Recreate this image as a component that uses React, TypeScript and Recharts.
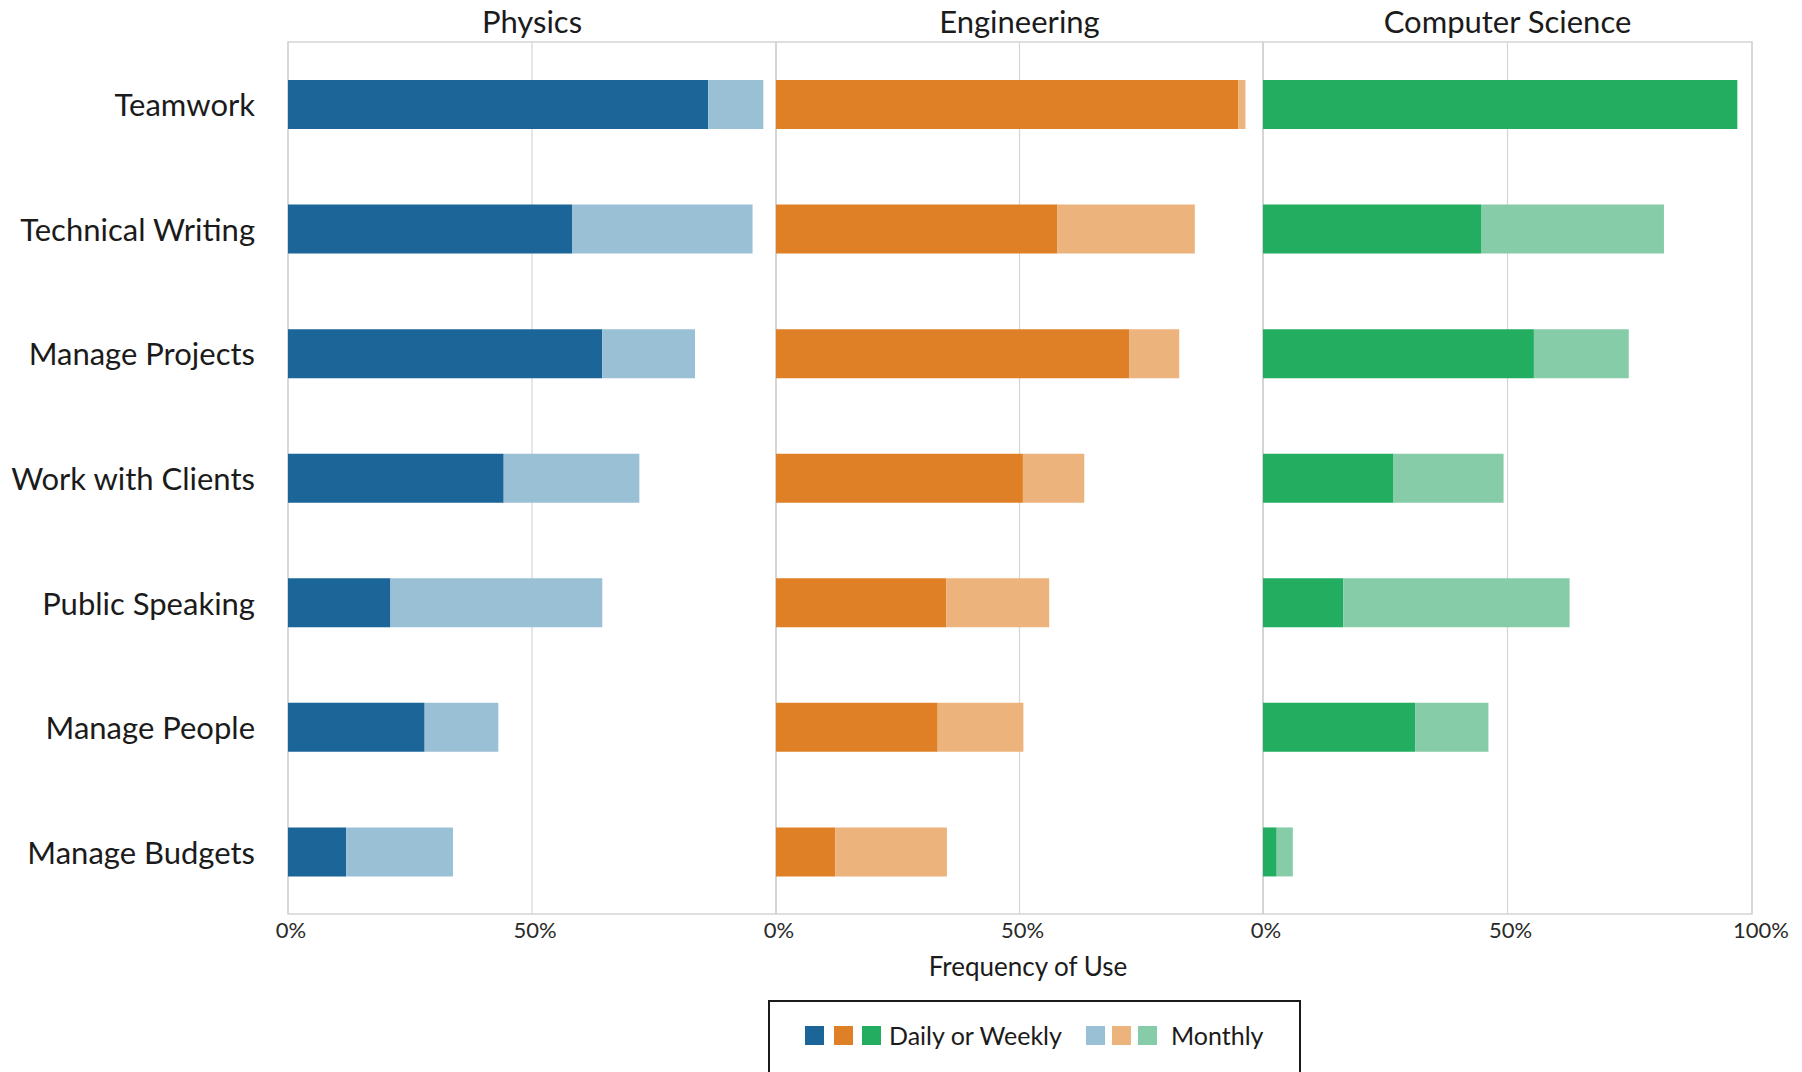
import React from "react";
import { BarChart, Bar, XAxis, YAxis, CartesianGrid, ReferenceArea } from "recharts";

// Skills surveyed, top to bottom
const skills = [
  "Teamwork",
  "Technical Writing",
  "Manage Projects",
  "Work with Clients",
  "Public Speaking",
  "Manage People",
  "Manage Budgets",
];

// Share of respondents (%) using each skill, by discipline
const physicsDaily = [86.1, 58.2, 64.4, 44.2, 21.0, 28.0, 11.9];
const physicsMonthly = [11.3, 37.0, 19.0, 27.8, 43.4, 15.1, 21.9];
const engineeringDaily = [94.9, 57.8, 72.6, 50.7, 35.0, 33.2, 12.2];
const engineeringMonthly = [1.5, 28.2, 10.2, 12.6, 21.1, 17.6, 22.9];
const csDaily = [97.0, 44.7, 55.4, 26.7, 16.4, 31.1, 2.8];
const csMonthly = [0, 37.3, 19.4, 22.5, 46.3, 15.0, 3.3];

const disciplines = ["Physics", "Engineering", "Computer Science"];
const innerTicks = [0, 50];
const lastTicks = [0, 50, 100];
const frequencyLabels = ["Daily or Weekly", "Monthly"];
const xAxisTitle = "Frequency of Use";

const FONT = "Lato, 'Open Sans', sans-serif";
const TEXT = "#1b1b1b";
const GRID = "#d5d5d5";

const W = 1802;
const H = 1072;
const PLOT_TOP = 42;
const PLOT_BOTTOM = 914;
const LABEL_W = 288;
const PAD = 40;
const EDGES = [288, 776, 1263, 1752];

const palettes = [
  { dark: "#1b6598", light: "#9ac0d6" },
  { dark: "#df8027", light: "#ecb37d" },
  { dark: "#22ad60", light: "#87cca9" },
];

const seriesByPanel = [
  { daily: physicsDaily, monthly: physicsMonthly },
  { daily: engineeringDaily, monthly: engineeringMonthly },
  { daily: csDaily, monthly: csMonthly },
];

const SkillTick = (props: any) => {
  const { y, payload } = props;
  return (
    <text
      x={LABEL_W - 33}
      y={y}
      textAnchor="end"
      dominantBaseline="central"
      fontFamily={FONT}
      fontSize={31}
      fill={TEXT}
    >
      {payload.value}
    </text>
  );
};

const PercentTick = (props: any) => {
  const { x, payload } = props;
  // the right-most label is nudged inward-right like a clamped end label
  const shift = payload.value === 100 ? 9 : 3;
  return (
    <text
      x={x + shift}
      y={PLOT_BOTTOM + 15}
      textAnchor="middle"
      dominantBaseline="central"
      fontFamily={FONT}
      fontSize={22}
      fill="#2a2a2a"
    >
      {`${payload.value}%`}
    </text>
  );
};

function Panel({ index }: { index: number }) {
  const first = index === 0;
  const last = index === disciplines.length - 1;
  const x0 = EDGES[index];
  const x1 = EDGES[index + 1];
  const left = first ? 0 : x0 - PAD;
  const width = first ? x1 + PAD : x1 - x0 + 2 * PAD;
  const { daily, monthly } = seriesByPanel[index];
  const { dark, light } = palettes[index];
  const data = skills.map((skill, i) => ({ skill, daily: daily[i], monthly: monthly[i] }));

  return (
    <div style={{ position: "absolute", left, top: 0 }}>
      <BarChart
        width={width}
        height={H}
        data={data}
        layout="vertical"
        barSize={49}
        margin={{ top: PLOT_TOP, right: PAD, bottom: 0, left: first ? 0 : PAD }}
      >
        <CartesianGrid horizontal={false} stroke={GRID} strokeWidth={1.2} />
        <XAxis
          type="number"
          domain={[0, 100]}
          ticks={last ? lastTicks : innerTicks}
          height={H - PLOT_BOTTOM}
          axisLine={false}
          tickLine={false}
          tick={<PercentTick />}
          interval={0}
        />
        <YAxis
          type="category"
          dataKey="skill"
          width={LABEL_W}
          hide={!first}
          axisLine={false}
          tickLine={false}
          tick={<SkillTick />}
          interval={0}
        />
        <Bar dataKey="daily" stackId="freq" fill={dark} isAnimationActive={false} />
        <Bar dataKey="monthly" stackId="freq" fill={light} isAnimationActive={false} />
        <ReferenceArea
          x1={0}
          x2={100}
          fill="none"
          fillOpacity={0}
          stroke={GRID}
          strokeWidth={1.5}
        />
      </BarChart>
    </div>
  );
}

function Legend() {
  const square = (left: number, color: string) => (
    <div
      key={left}
      style={{
        position: "absolute",
        left,
        top: 1026,
        width: 19,
        height: 19,
        background: color,
      }}
    />
  );
  const label = (left: number, text: string) => (
    <div
      style={{
        position: "absolute",
        left,
        top: 1035,
        transform: "translateY(-50%)",
        fontFamily: FONT,
        fontSize: 25,
        color: TEXT,
        whiteSpace: "nowrap",
        lineHeight: 1,
      }}
    >
      {text}
    </div>
  );
  return (
    <>
      <div
        style={{
          position: "absolute",
          left: 768,
          top: 1000,
          width: 533,
          height: 120,
          border: "2px solid #1a1a1a",
          boxSizing: "border-box",
        }}
      />
      {[805, 834, 862].map((l, i) => square(l, palettes[i].dark))}
      {label(889, frequencyLabels[0])}
      {[1086, 1112, 1138].map((l, i) => square(l, palettes[i].light))}
      {label(1171, frequencyLabels[1])}
    </>
  );
}

export default function App() {
  return (
    <div
      style={{
        position: "absolute",
        left: 0,
        top: 0,
        width: W,
        height: H,
        background: "#ffffff",
        overflow: "hidden",
      }}
    >
      {disciplines.map((_, i) => (
        <Panel key={i} index={i} />
      ))}
      <svg
        width={W}
        height={H}
        style={{ position: "absolute", left: 0, top: 0, pointerEvents: "none" }}
      >
        {disciplines.map((title, i) => (
          <text
            key={title}
            x={(EDGES[i] + EDGES[i + 1]) / 2}
            y={33}
            textAnchor="middle"
            fontFamily={FONT}
            fontSize={31}
            fill={TEXT}
          >
            {title}
          </text>
        ))}
        <text
          x={1028}
          y={966}
          textAnchor="middle"
          dominantBaseline="central"
          fontFamily={FONT}
          fontSize={26}
          fill={TEXT}
        >
          {xAxisTitle}
        </text>
      </svg>
      <Legend />
    </div>
  );
}
